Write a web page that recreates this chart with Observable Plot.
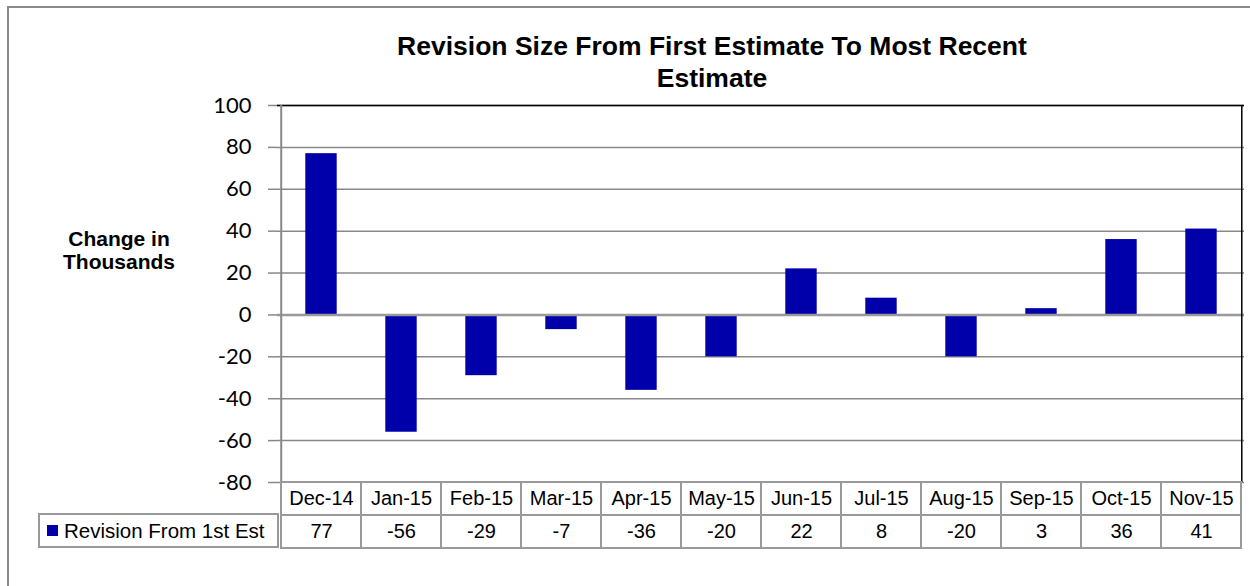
<!DOCTYPE html>
<html>
<head>
<meta charset="utf-8">
<script src="https://cdn.jsdelivr.net/npm/d3@7"></script>
<script src="https://cdn.jsdelivr.net/npm/@observablehq/plot@0.6"></script>
<style>
  html, body { margin: 0; padding: 0; background: #fff; }
  #wrap { position: relative; width: 1250px; height: 586px; overflow: hidden; font-family: "Liberation Sans", Arial, sans-serif; }
  #outer { position: absolute; left: 7px; top: 6px; width: 1300px; height: 700px; border-top: 2px solid #8a8a8a; border-left: 2px solid #8a8a8a; box-sizing: border-box; }
  #title { position: absolute; left: 362px; width: 700px; top: 30px; text-align: center; font-weight: bold; font-size: 26.5px; line-height: 32px; color: #000; }
  #ylabel { position: absolute; left: 19px; width: 200px; top: 227px; text-align: center; font-weight: bold; font-size: 21px; line-height: 23px; color: #000; }
  #main { position: absolute; left: 0; top: 0; }
  #table { position: absolute; left: 0; top: 481px; }
  #legcell { position: absolute; left: 38px; top: 513px; width: 241px; height: 35px; box-sizing: border-box; border: 2px solid #999; background: #fff; font-size: 20.5px; line-height: 31px; }
  #legcell .sw { position: absolute; left: 7px; top: 4px; width: 11px; height: 11px; margin-top: 6px; background: #0000AA; }
  #legcell .tx { position: absolute; left: 24px; top: 0px; white-space: nowrap; }
</style>
</head>
<body>
<div id="wrap">
  <div id="outer"></div>
  <div id="main"></div>
  <div id="table"></div>
  <div id="title">Revision Size From First Estimate To Most Recent<br>Estimate</div>
  <div id="ylabel">Change in<br>Thousands</div>
  <div id="legcell"><div class="sw"></div><div class="tx">Revision From 1st Est</div></div>
</div>
<script>
const months = ["Dec-14","Jan-15","Feb-15","Mar-15","Apr-15","May-15","Jun-15","Jul-15","Aug-15","Sep-15","Oct-15","Nov-15"];
const revisions = [77, -56, -29, -7, -36, -20, 22, 8, -20, 3, 36, 41];
const yTicks = [-80, -60, -40, -20, 0, 20, 40, 60, 80, 100];
const seriesName = "Revision From 1st Est";

const data = months.map((m, i) => ({month: m, value: revisions[i]}));

const W = 1250, ML = 277, MR = 6;
const step = (W - ML - MR) / months.length;
const barColor = "#0000AA";

const main = Plot.plot({
  width: W,
  height: 484,
  marginLeft: ML,
  marginRight: MR,
  marginTop: 105,
  marginBottom: 2,
  style: {background: "transparent", fontFamily: "Lato, 'Liberation Sans', sans-serif", overflow: "visible"},
  x: {domain: months, type: "band", padding: 0, axis: null},
  y: {domain: [-80, 100], axis: null},
  marks: [
    Plot.gridY(yTicks, {stroke: "#888", strokeOpacity: 1, strokeWidth: 1.5}),
    Plot.barY(data, {x: "month", y: "value", fill: barColor, insetLeft: 24.3, insetRight: 24.3}),
    Plot.ruleY([0], {stroke: "#999", strokeWidth: 2.5}),
    Plot.ruleY([100], {stroke: "#000", strokeWidth: 1.5}),
    Plot.ruleX([months[months.length - 1]], {dx: step / 2, y1: -80, y2: 100, stroke: "#000", strokeWidth: 1.5}),
    Plot.ruleX([months[0]], {dx: -step / 2, y1: -80, y2: 100, stroke: "#888", strokeWidth: 2}),
    Plot.axisY(yTicks, {label: null, tickSize: 9, tickPadding: 17, fontSize: 22, stroke: "#888", strokeWidth: 1.5, color: "#000", tickFormat: d => String(d)})
  ]
});
main.querySelectorAll("text").forEach(t => t.setAttribute("fill", "#000"));
document.getElementById("main").append(main);

const rowNames = ["header", "value"];
const tableRows = [
  ...months.map(m => ({month: m, row: "header", label: m})),
  ...data.map(d => ({month: d.month, row: "value", label: String(d.value)}))
];

const table = Plot.plot({
  width: W,
  height: 68,
  marginLeft: ML,
  marginRight: MR,
  marginTop: 1,
  marginBottom: 1,
  style: {background: "transparent", fontFamily: "'Liberation Sans', Arial, sans-serif"},
  x: {domain: months, type: "band", padding: 0, axis: null},
  y: {domain: rowNames, type: "band", padding: 0, axis: null},
  marks: [
    Plot.cell(tableRows, {x: "month", y: "row", fill: "#fff", stroke: "#999", strokeWidth: 2}),
    Plot.text(tableRows, {x: "month", y: "row", text: "label", fontSize: 20, fill: "#000"})
  ]
});
document.getElementById("table").append(table);
</script>
</body>
</html>
